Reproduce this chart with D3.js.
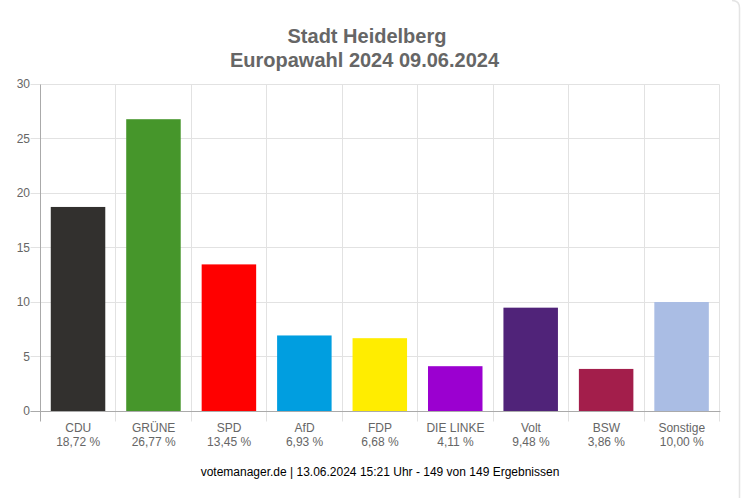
<!DOCTYPE html>
<html>
<head>
<meta charset="utf-8">
<script src="https://cdn.jsdelivr.net/npm/d3@7"></script>
<style>
html, body { margin: 0; padding: 0; background: #fff; overflow: hidden; }
svg { display: block; }
text { font-family: "Liberation Sans", Arial, sans-serif; }
</style>
</head>
<body>
<svg id="chart" width="741" height="498"></svg>
<script>
var parties = ['CDU', 'GRÜNE', 'SPD', 'AfD', 'FDP', 'DIE LINKE', 'Volt', 'BSW', 'Sonstige'];
var shares = [18.72, 26.77, 13.45, 6.93, 6.68, 4.11, 9.48, 3.86, 10.00];
var shareLabels = ['18,72 %', '26,77 %', '13,45 %', '6,93 %', '6,68 %', '4,11 %', '9,48 %', '3,86 %', '10,00 %'];
var colors = ['#32302e', '#46962b', '#ff0000', '#009ee0', '#ffed00', '#9b00d0', '#502379', '#a31e4b', '#aabde4'];
var yTicks = [0, 5, 10, 15, 20, 25, 30];
var titleLines = ['Stadt Heidelberg', 'Europawahl 2024 09.06.2024'];
var titleX = [367, 364.5];
var footer = 'votemanager.de | 13.06.2024 15:21 Uhr - 149 von 149 Ergebnissen';

var plotLeft = 40.5, plotRight = 719.5, plotTop = 84, plotBottom = 411;
var svg = d3.select('#chart');

// page card edge on the right
svg.append('path')
  .attr('d', 'M732,0.5 Q739.5,0.5 739.5,8 V498')
  .attr('fill', 'none')
  .attr('stroke', '#e4e4e4')
  .attr('stroke-width', 1.5);

var x = d3.scaleBand().domain(parties).range([plotLeft, plotRight]).paddingInner(0).paddingOuter(0);
var y = d3.scaleLinear().domain([0, 30]).range([plotBottom, plotTop]);

// grid
var grid = svg.append('g');
grid.selectAll('line.h').data(yTicks).enter().append('line')
  .attr('class', 'h')
  .attr('x1', plotLeft - 10).attr('x2', plotRight)
  .attr('y1', function (d) { return Math.floor(y(d)) + 0.5; })
  .attr('y2', function (d) { return Math.floor(y(d)) + 0.5; })
  .attr('stroke', '#e2e2e2');

var xEdges = parties.map(function (p) { return x(p); }).concat([plotRight]);
grid.selectAll('line.v').data(xEdges).enter().append('line')
  .attr('class', 'v')
  .attr('x1', function (d) { return Math.round(d - 0.5) + 0.5; })
  .attr('x2', function (d) { return Math.round(d - 0.5) + 0.5; })
  .attr('y1', plotTop + 0.5).attr('y2', plotBottom + 10.5)
  .attr('stroke', function (d, i) { return i === 0 ? '#aaa' : '#e2e2e2'; });

// bars
var barW = 54.5;
svg.selectAll('rect.bar').data(parties).enter().append('rect')
  .attr('class', 'bar')
  .attr('x', function (p) { return x(p) + (x.bandwidth() - barW) / 2 - 0.2; })
  .attr('width', barW)
  .attr('y', function (p, i) { return y(shares[i]); })
  .attr('height', function (p, i) { return y(0) - y(shares[i]); })
  .attr('fill', function (p, i) { return colors[i]; });

// baseline over the bars
svg.append('line')
  .attr('x1', plotLeft - 10).attr('x2', plotRight + 1)
  .attr('y1', plotBottom + 0.5).attr('y2', plotBottom + 0.5)
  .attr('stroke', '#aaa');

// y labels
svg.selectAll('text.yl').data(yTicks).enter().append('text')
  .attr('class', 'yl')
  .attr('x', 30)
  .attr('y', function (d) { return y(d) + 4; })
  .attr('text-anchor', 'end')
  .attr('font-size', 12)
  .attr('fill', '#666')
  .text(function (d) { return d; });

// x labels
var xl = svg.selectAll('g.xl').data(parties).enter().append('g').attr('class', 'xl');
xl.append('text')
  .attr('x', function (p) { return x(p) + x.bandwidth() / 2; })
  .attr('y', 432)
  .attr('text-anchor', 'middle')
  .attr('font-size', 12)
  .attr('fill', '#666')
  .text(function (p) { return p; });
xl.append('text')
  .attr('x', function (p) { return x(p) + x.bandwidth() / 2; })
  .attr('y', 446)
  .attr('text-anchor', 'middle')
  .attr('font-size', 12)
  .attr('fill', '#666')
  .text(function (p, i) { return shareLabels[i]; });

// title
svg.selectAll('text.title').data(titleLines).enter().append('text')
  .attr('class', 'title')
  .attr('x', function (d, i) { return titleX[i]; })
  .attr('y', function (d, i) { return 43 + i * 24; })
  .attr('text-anchor', 'middle')
  .attr('font-size', 20)
  .attr('font-weight', 'bold')
  .attr('fill', '#666')
  .text(function (d) { return d; });

svg.append('text')
  .attr('x', 380)
  .attr('y', 476)
  .attr('text-anchor', 'middle')
  .attr('font-size', 12)
  .attr('fill', '#000')
  .text(footer);
</script>
</body>
</html>
